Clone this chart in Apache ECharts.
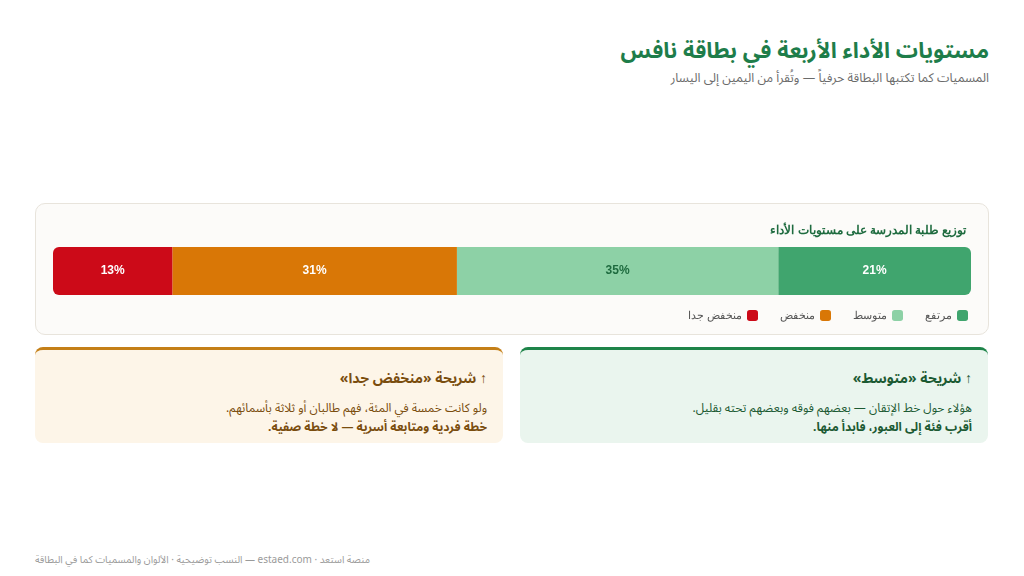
<!DOCTYPE html>
<html><head><meta charset="utf-8">
<script src="https://cdn.jsdelivr.net/npm/echarts@6/dist/echarts.min.js"></script>
<style>
body{margin:0;width:1024px;height:576px;background:#fff;font-family:"Noto Sans","Noto Sans Arabic",sans-serif;position:relative;overflow:hidden}
.t{position:absolute;right:35px;top:28px;font-size:22px;font-weight:700;color:#1e7d4a;direction:rtl;margin:0}
.s{position:absolute;right:35px;top:65px;font-size:12.5px;color:#6b6b6b;direction:rtl}
.card{position:absolute;left:35px;top:203px;width:952px;height:130px;border:1px solid #e8e4dc;border-radius:10px;background:#fcfbf9}
#c{position:absolute;left:0;top:0;width:952px;height:130px}
.note{position:absolute;top:347px;width:468px;height:96px;border-radius:8px;direction:rtl;box-sizing:border-box;padding:14px 16px 0 16px}
.note h3{margin:0 0 5px;font-size:14px;font-weight:700}
.note p{margin:0;font-size:12px;line-height:19px}
.note b{font-size:12px}
.f{position:absolute;left:35px;top:549px;font-size:10px;color:#9a9a9a;direction:rtl}
</style></head><body>
<h1 class="t">مستويات الأداء الأربعة في بطاقة نافس</h1>
<div class="s">المسميات كما تكتبها البطاقة حرفياً — وتُقرأ من اليمين إلى اليسار</div>
<div class="card"><div id="c"></div></div>
<div class="note" style="left:35px;background:#fdf5e8;border-top:3px solid #c47f17;color:#7a4d0e">
<h3>↑ شريحة «منخفض جدا»</h3>
<p>ولو كانت خمسة في المئة، فهم طالبان أو ثلاثة بأسمائهم.</p>
<p><b>خطة فردية ومتابعة أسرية — لا خطة صفية.</b></p></div>
<div class="note" style="left:520px;background:#eaf5ee;border-top:3px solid #1e8449;color:#1c5a33">
<h3>↑ شريحة «متوسط»</h3>
<p>هؤلاء حول خط الإتقان — بعضهم فوقه وبعضهم تحته بقليل.</p>
<p><b>أقرب فئة إلى العبور، فابدأ منها.</b></p></div>
<div class="f">منصة استعد · estaed.com — النسب توضيحية · الألوان والمسميات كما في البطاقة</div>
<script>
const levels=['مرتفع','متوسط','منخفض','منخفض جدا'];
const values=[21,35,31,13];
const colors=['#40a56e','#8dd1a6','#d97706','#cc0a18'];
const labelColors=['#fff','#1e6b3f','#fff','#fff'];
const chart=echarts.init(document.getElementById('c'));
chart.setOption({
 animation:false,
 title:{text:'توزيع طلبة المدرسة على مستويات الأداء',right:17,top:16,textStyle:{fontSize:12,fontWeight:'bold',color:'#1e6b3f',fontFamily:'Noto Sans'}},
 legend:{data:levels.slice().reverse(),right:15,top:101,align:'right',itemWidth:11,itemHeight:11,itemGap:22,icon:'roundRect',textStyle:{fontSize:11,color:'#555',fontFamily:'Noto Sans'}},
 grid:{left:17,right:17,top:43,height:48},
 xAxis:{type:'value',max:100,inverse:true,show:false},
 yAxis:{type:'category',data:['a'],show:false},
 series:levels.map((n,i)=>({name:n,type:'bar',stack:'s',barWidth:48,data:[values[i]],
  itemStyle:{color:colors[i],borderRadius:i===0?[0,6,6,0]:(i===3?[6,0,0,6]:0)},
  label:{show:true,position:'inside',formatter:'{c}%',color:labelColors[i],fontSize:12,fontWeight:'bold'}}))
});
</script></body></html>
